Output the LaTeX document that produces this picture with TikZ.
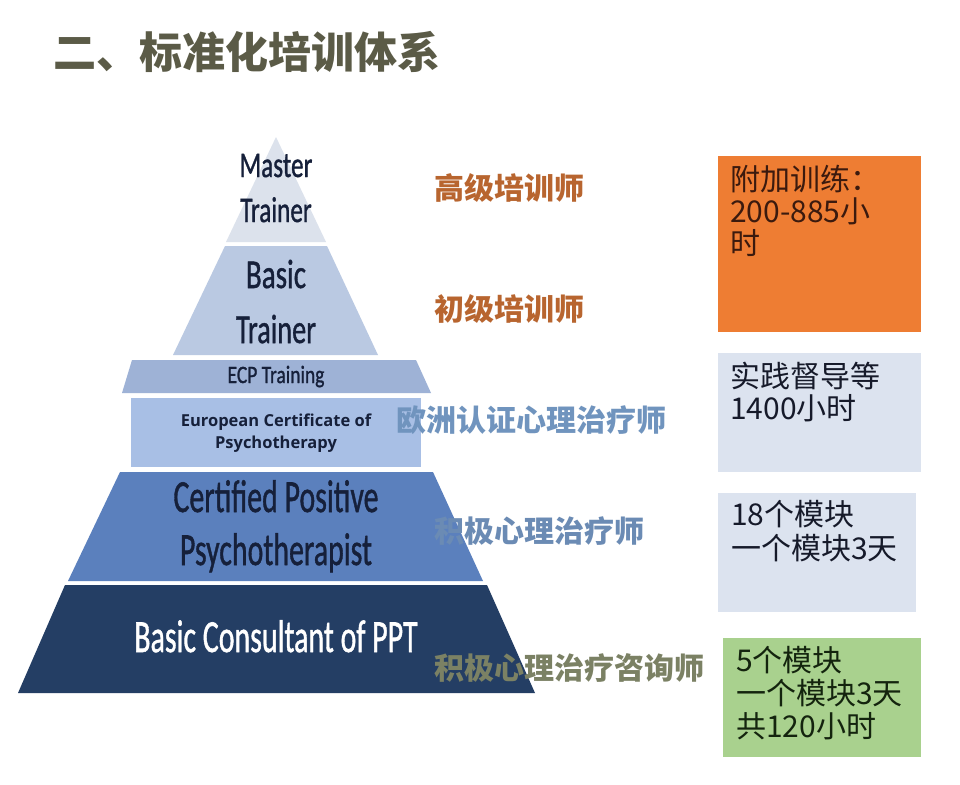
\documentclass[tikz,border=0pt]{standalone}
\usepackage{fontspec}
\usepackage{graphicx}
\setmainfont{Carlito}
\newfontfamily\pyrfont[FakeBold=1.2]{Carlito}
\newfontfamily\cjk{Noto Sans CJK SC}
\newfontfamily\osans{Open Sans}
\definecolor{titlec}{HTML}{5B5B47}
\definecolor{mastc}{HTML}{DCE2EC}
\definecolor{basicc}{HTML}{BAC9E2}
\definecolor{ecptc}{HTML}{9EB2D6}
\definecolor{ecpc}{HTML}{A8BFE5}
\definecolor{certc}{HTML}{5B80BD}
\definecolor{consc}{HTML}{243E64}
\definecolor{pyrtext}{HTML}{16203A}
\definecolor{orangebox}{HTML}{EE7D33}
\definecolor{lightbox}{HTML}{DCE3EF}
\definecolor{greenbox}{HTML}{A9D18E}
\definecolor{orangelab}{HTML}{B8652F}
\definecolor{bluelabA}{HTML}{7094BE}
\definecolor{bluelabB}{HTML}{6B8BB4}
\definecolor{olivelab}{HTML}{7B8164}
\definecolor{orangetxt}{HTML}{3B1A0E}
\definecolor{lighttxt}{HTML}{161A2A}
\definecolor{greentxt}{HTML}{14240E}
\tikzset{
  pyr/.style={inner sep=0pt, anchor=base, text=pyrtext},
  lab/.style={inner sep=0pt, anchor=west, font=\cjk\bfseries\fontsize{30}{33}\selectfont},
  infobox/.style={draw=none, inner sep=0pt, anchor=north west},
  boxline/.style={inner sep=0pt, anchor=base west, font=\cjk\fontsize{30}{33}\selectfont}
}
\newcommand{\sqz}[2]{\scalebox{#1}[1]{#2}}
\begin{document}
\begin{tikzpicture}[x=1pt,y=-1pt]
\useasboundingbox (0,0) rectangle (960,784);
\fill[white] (0,0) rectangle (960,784);

% title
\node[inner sep=0pt, anchor=west, text=titlec, font=\cjk\bfseries\fontsize{43}{48}\selectfont] (title) at (53,52) {二、标准化培训体系};

% pyramid layers
\fill[mastc] (276,137) -- (326,242) -- (226,242) -- cycle;
\fill[basicc] (225,246) -- (327,246) -- (378,355) -- (173,355) -- cycle;
\fill[ecptc] (132,360) -- (416,360) -- (431,393) -- (122,393) -- cycle;
\fill[ecpc] (131,398) rectangle (421,467);
\fill[certc] (120,472) -- (433,472) -- (483,581) -- (68,581) -- cycle;
\fill[consc] (65,585) -- (487,585) -- (535,693) -- (18,693) -- cycle;

% pyramid texts
\node[pyr, font=\pyrfont\fontsize{36}{45}\selectfont] (mt1) at (276,177) {\sqz{0.7}{Master}};
\node[pyr, font=\pyrfont\fontsize{36}{45}\selectfont] (mt2) at (276,222) {\sqz{0.7}{Trainer}};
\node[pyr, font=\pyrfont\fontsize{41}{50}\selectfont] (bt1) at (276,288) {\sqz{0.71}{Basic}};
\node[pyr, font=\pyrfont\fontsize{41}{50}\selectfont] (bt2) at (276,343) {\sqz{0.69}{Trainer}};
\node[pyr, font=\pyrfont\fontsize{25}{30}\selectfont] (ecpt) at (276,383) {\sqz{0.78}{ECP Training}};
\node[pyr, font=\osans\bfseries\fontsize{16.5}{22}\selectfont] (ecp1) at (276,426) {European Certificate of};
\node[pyr, font=\osans\bfseries\fontsize{16.5}{22}\selectfont] (ecp2) at (276,448) {Psychotherapy};
\node[pyr, font=\pyrfont\fontsize{46}{55}\selectfont] (cp1) at (276,512) {\sqz{0.65}{Certified Positive}};
\node[pyr, font=\pyrfont\fontsize{46}{55}\selectfont] (cp2) at (276,565) {\sqz{0.65}{Psychotherapist}};
\node[pyr, text=white, font=\pyrfont\fontsize{46}{55}\selectfont] (bc) at (276,652) {\sqz{0.65}{Basic Consultant of PPT}};

% level labels
\node[lab, text=orangelab] (lab1) at (434,188) {高级培训师};
\node[lab, text=orangelab] (lab2) at (434,309) {初级培训师};
\node[lab, text=bluelabA] (lab3) at (396,420) {欧洲认证心理治疗师};
\node[lab, text=bluelabB] (lab4) at (434,531) {积极心理治疗师};
\node[lab, text=olivelab] (lab5) at (434,668) {积极心理治疗咨询师};

% info boxes
\node[infobox, fill=orangebox, minimum width=203pt, minimum height=176pt] (box1) at (718,156) {};
\node[infobox, fill=lightbox, minimum width=203pt, minimum height=119pt] (box2) at (718,353) {};
\node[infobox, fill=lightbox, minimum width=198pt, minimum height=119pt] (box3) at (718,493) {};
\node[infobox, fill=greenbox, minimum width=198pt, minimum height=119pt] (box4) at (723,638) {};

\node[boxline, text=orangetxt] (t11) at (730,190) {附加训练：};
\node[boxline, text=orangetxt] (t12) at (730,222) {200-885小};
\node[boxline, text=orangetxt] (t13) at (730,254) {时};

\node[boxline, text=lighttxt] (t21) at (730,387) {实践督导等};
\node[boxline, text=lighttxt] (t22) at (730,419) {1400小时};

\node[boxline, text=lighttxt] (t31) at (731,525) {18个模块};
\node[boxline, text=lighttxt] (t32) at (731,559) {一个模块3天};

\node[boxline, text=greentxt] (t41) at (736,671) {5个模块};
\node[boxline, text=greentxt] (t42) at (736,704) {一个模块3天};
\node[boxline, text=greentxt] (t43) at (736,737) {共120小时};
\end{tikzpicture}
\end{document}
